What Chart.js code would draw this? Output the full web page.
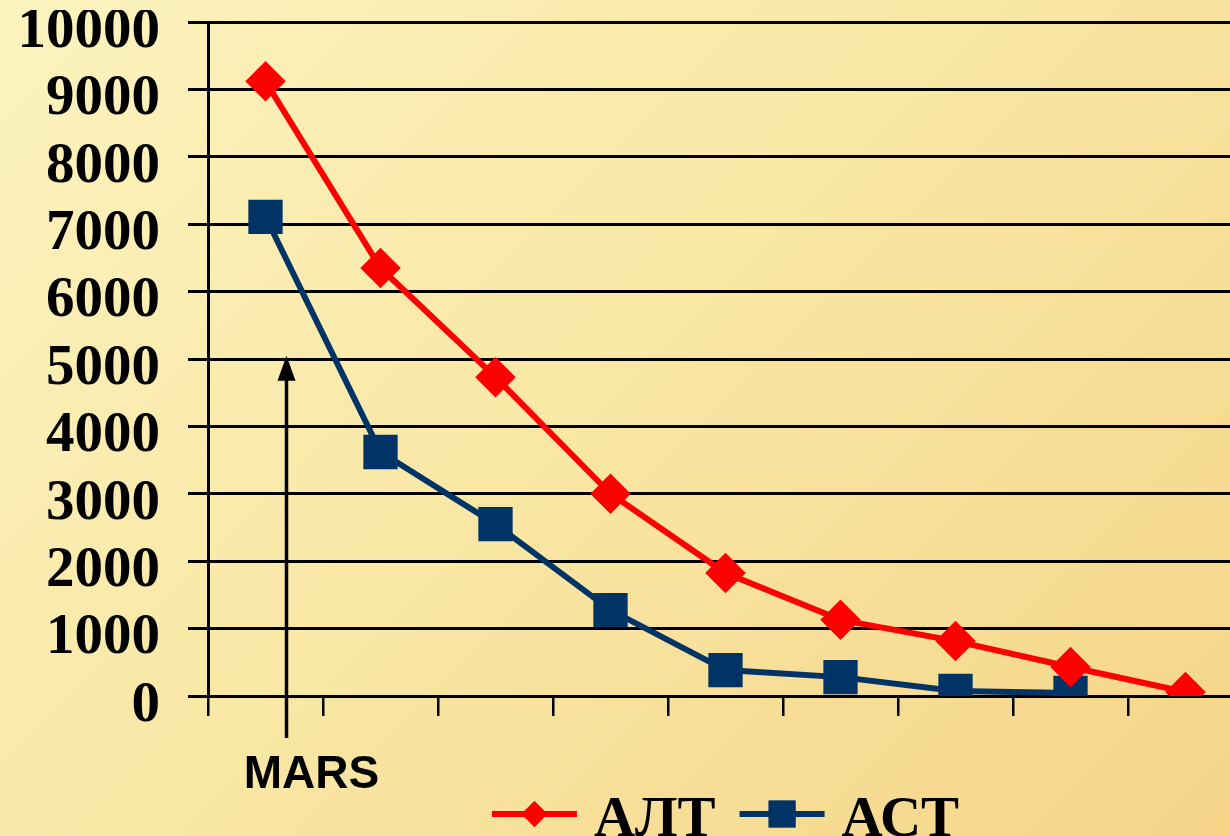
<!DOCTYPE html>
<html><head><meta charset="utf-8">
<script src="https://cdn.jsdelivr.net/npm/chart.js@4.4.1/dist/chart.umd.min.js"></script>
<style>
html,body{margin:0;padding:0;overflow:hidden;width:1230px;height:836px;}
body{background:linear-gradient(135deg,#FCF3BF 0%,#F9E8A6 45%,#F5D488 100%);}
#wrap{position:absolute;left:0;top:0;width:1243px;height:836px;}
</style></head><body><div id="wrap"><canvas id="c"></canvas></div>
<script>
// ---- data ----
const categories = ['1','2','3','4','5','6','7','8','9'];
const altValues = [9120, 6350, 4730, 3000, 1825, 1130, 815, 430, 60];
const astValues = [7110, 3620, 2550, 1275, 385, 280, 75, 45, null];
const yTickValues = [0,1000,2000,3000,4000,5000,6000,7000,8000,9000,10000];
const seriesNames = ['АЛТ', 'АСТ'];
const markerText = 'MARS';
const markerCategory = 0;   // category index the arrow sits beside
const markerValue = 5050;   // value the arrow tip points to

const serif = "'Liberation Serif','Times New Roman',serif";

const decor = {
  id: 'decor',
  afterLayout(chart) {
    const ys = chart.scales.y;
    if (ys && !ys._wrappedLabels) {
      const orig = ys.drawLabels;
      ys.drawLabels = function (a) {
        const ctx = this.ctx; ctx.save(); ctx.translate(0, 10); orig.call(this, a); ctx.restore();
      };
      ys._wrappedLabels = true;
    }
  },
  afterDraw(chart) {
    const ctx = chart.ctx, xs = chart.scales.x, ys = chart.scales.y;
    // arrow + MARS
    const ax = xs.getPixelForValue(markerCategory) + 21;
    const tip = ys.getPixelForValue(markerValue);
    const bot = ys.bottom + 42;
    ctx.save();
    ctx.strokeStyle = '#000'; ctx.fillStyle = '#000'; ctx.lineWidth = 3.5;
    ctx.beginPath(); ctx.moveTo(ax, bot); ctx.lineTo(ax, tip + 20); ctx.stroke();
    ctx.beginPath(); ctx.moveTo(ax, tip); ctx.lineTo(ax - 9, tip + 25); ctx.lineTo(ax + 9, tip + 25); ctx.closePath(); ctx.fill();
    ctx.font = "bold 46px 'Liberation Sans', Arial, sans-serif";
    ctx.textAlign = 'center'; ctx.textBaseline = 'middle';
    ctx.fillText(markerText, ax + 25, bot + 37);
    ctx.restore();

    // legend
    ctx.save();
    ctx.font = 'bold 57px ' + serif;
    const lineLen = 85, gapText = 17, gapItem = 24;
    const items = chart.data.datasets.map(d => ({ d, w: ctx.measureText(d.label).width }));
    let total = 0;
    items.forEach((it, i) => { total += lineLen + gapText + it.w + (i < items.length - 1 ? gapItem : 0); });
    let x = (chart.chartArea.left + chart.chartArea.right) / 2 - total / 2;
    const ly = 814;
    items.forEach((it, i) => {
      const d = it.d;
      ctx.strokeStyle = d.borderColor; ctx.lineWidth = 6;
      ctx.beginPath(); ctx.moveTo(x, ly); ctx.lineTo(x + lineLen, ly); ctx.stroke();
      ctx.fillStyle = d.pointBackgroundColor;
      Chart.helpers.drawPoint(ctx, { pointStyle: d.pointStyle, radius: d.legendRadius, rotation: 0, borderWidth: 0 }, x + lineLen / 2, ly);
      ctx.fill();
      ctx.fillStyle = '#000'; ctx.textAlign = 'left'; ctx.textBaseline = 'alphabetic';
      ctx.fillText(d.label, x + lineLen + gapText, 836);
      x += lineLen + gapText + it.w + gapItem;
    });
    ctx.restore();
  }
};

new Chart(document.getElementById('c'), {
  type: 'line',
  data: {
    labels: categories,
    datasets: [
      { label: seriesNames[0], data: altValues, borderColor: '#FF0000', backgroundColor: '#FF0000',
        pointBackgroundColor: '#FF0000', pointBorderColor: '#FF0000', borderWidth: 6,
        pointStyle: 'rectRot', pointRadius: 16, legendRadius: 13, tension: 0 },
      { label: seriesNames[1], data: astValues, borderColor: '#003366', backgroundColor: '#003366',
        pointBackgroundColor: '#003366', pointBorderColor: '#003366', borderWidth: 6,
        pointStyle: 'rect', pointRadius: 20, legendRadius: 19, tension: 0 }
    ]
  },
  options: {
    responsive: true, maintainAspectRatio: false, animation: false,
    layout: { autoPadding: false, padding: { top: 22, left: 0, right: 0, bottom: 0 } },
    plugins: { legend: { display: false }, tooltip: { enabled: false } },
    scales: {
      x: {
        offset: true,
        grid: { offset: true, drawOnChartArea: false, drawTicks: true, tickLength: 20, color: '#000', lineWidth: 2.5 },
        border: { display: true, color: '#000', width: 3 },
        ticks: { display: false },
        afterFit(s) { s.height = 140; s.paddingLeft = 0; s.paddingRight = 0; }
      },
      y: {
        min: 0, max: 10000,
        afterBuildTicks(s) { s.ticks = yTickValues.map(v => ({ value: v })); },
        grid: { color: '#000', lineWidth: 3, tickLength: 20, drawTicks: true },
        border: { display: true, color: '#000', width: 3 },
        ticks: { color: '#000', padding: 28, autoSkip: false, callback: v => String(v),
                 font: { family: serif, weight: 'bold', size: 57 } },
        afterFit(s) { s.width = 208; s.paddingTop = 0; s.paddingBottom = 0; }
      }
    }
  },
  plugins: [decor]
});
</script>
</body></html>
